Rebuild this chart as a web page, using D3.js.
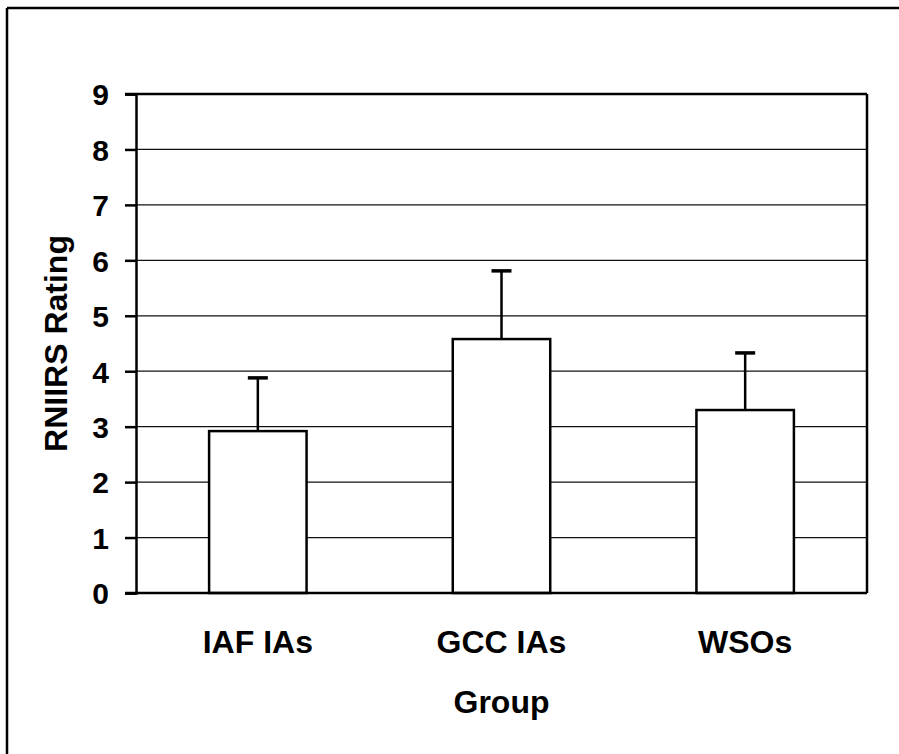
<!DOCTYPE html>
<html>
<head>
<meta charset="utf-8">
<script src="https://cdn.jsdelivr.net/npm/d3@7"></script>
<style>
  body { margin: 0; background: #fff; }
  text { font-family: "Liberation Sans", Arial, sans-serif; font-weight: bold; fill: #000; }
</style>
</head>
<body>
<script>
// data
var groups = ['IAF IAs', 'GCC IAs', 'WSOs'];
var means = [2.92, 4.58, 3.30];
var errors = [0.96, 1.23, 1.03];
var yTicks = [0, 1, 2, 3, 4, 5, 6, 7, 8, 9];

var width = 899, height = 754;
var margin = {top: 94, right: 32, bottom: 161, left: 136};
var plotW = width - margin.left - margin.right;
var plotH = height - margin.top - margin.bottom;

var svg = d3.select('body').append('svg')
  .attr('width', width)
  .attr('height', height);

// outer frame (only top and left survive in the scan)
svg.append('line').attr('x1', 7).attr('x2', width).attr('y1', 8).attr('y2', 8)
  .attr('stroke', '#000').attr('stroke-width', 2.5);
svg.append('line').attr('x1', 7).attr('x2', 7).attr('y1', 8).attr('y2', height)
  .attr('stroke', '#000').attr('stroke-width', 2.5);

var g = svg.append('g').attr('transform', 'translate(' + margin.left + ',' + margin.top + ')');

var x = d3.scaleBand().domain(groups).range([0, plotW]).paddingInner(0.6).paddingOuter(0.3);
var y = d3.scaleLinear().domain([0, 9]).range([plotH, 0]);

// grid lines
g.selectAll('.grid')
  .data(yTicks.filter(function(d) { return d > 0 && d < 9; }))
  .enter().append('line')
  .attr('x1', 0).attr('x2', plotW)
  .attr('y1', function(d) { return y(d); })
  .attr('y2', function(d) { return y(d); })
  .attr('stroke', '#111').attr('stroke-width', 1.2);

// plot frame top / right
g.append('line').attr('x1', -11).attr('x2', plotW).attr('y1', 0).attr('y2', 0)
  .attr('stroke', '#000').attr('stroke-width', 2.5);
g.append('line').attr('x1', plotW).attr('x2', plotW).attr('y1', 0).attr('y2', plotH)
  .attr('stroke', '#000').attr('stroke-width', 2.5);

// error bars
var eb = g.selectAll('.err').data(groups).enter().append('g');
eb.append('line')
  .attr('x1', function(d) { return x(d) + x.bandwidth() / 2; })
  .attr('x2', function(d) { return x(d) + x.bandwidth() / 2; })
  .attr('y1', function(d, i) { return y(means[i]); })
  .attr('y2', function(d, i) { return y(means[i] + errors[i]); })
  .attr('stroke', '#000').attr('stroke-width', 2.5);
eb.append('line')
  .attr('x1', function(d) { return x(d) + x.bandwidth() / 2 - 10; })
  .attr('x2', function(d) { return x(d) + x.bandwidth() / 2 + 10; })
  .attr('y1', function(d, i) { return y(means[i] + errors[i]); })
  .attr('y2', function(d, i) { return y(means[i] + errors[i]); })
  .attr('stroke', '#000').attr('stroke-width', 3.5);

// bars
g.selectAll('.bar').data(groups).enter().append('rect')
  .attr('x', function(d) { return x(d); })
  .attr('width', x.bandwidth())
  .attr('y', function(d, i) { return y(means[i]); })
  .attr('height', function(d, i) { return plotH - y(means[i]); })
  .attr('fill', '#fff').attr('stroke', '#000').attr('stroke-width', 2.5);

// y axis
var yAxis = g.append('g')
  .call(d3.axisLeft(y).tickValues(yTicks).tickSize(11).tickPadding(16).tickFormat(d3.format('d')));
yAxis.select('.domain').attr('stroke-width', 2.5);
yAxis.selectAll('.tick line').attr('stroke-width', 2.5);
yAxis.selectAll('.tick text').style('font-size', '30px').attr('dy', '0.36em');

// x axis
var xAxis = g.append('g').attr('transform', 'translate(0,' + plotH + ')')
  .call(d3.axisBottom(x).tickSize(0).tickPadding(60));
xAxis.select('.domain').attr('stroke-width', 2.5).attr('d', 'M-11,0H' + plotW);
xAxis.selectAll('.tick text').style('font-size', '32px').attr('dy', 0);

// axis titles
svg.append('text')
  .attr('x', margin.left + plotW / 2)
  .attr('y', 713)
  .attr('text-anchor', 'middle')
  .style('font-size', '32px')
  .text('Group');

svg.append('text')
  .attr('transform', 'translate(67,' + (margin.top + plotH / 2) + ') rotate(-90)')
  .attr('text-anchor', 'middle')
  .style('font-size', '32px')
  .text('RNIIRS Rating');
</script>
</body>
</html>
